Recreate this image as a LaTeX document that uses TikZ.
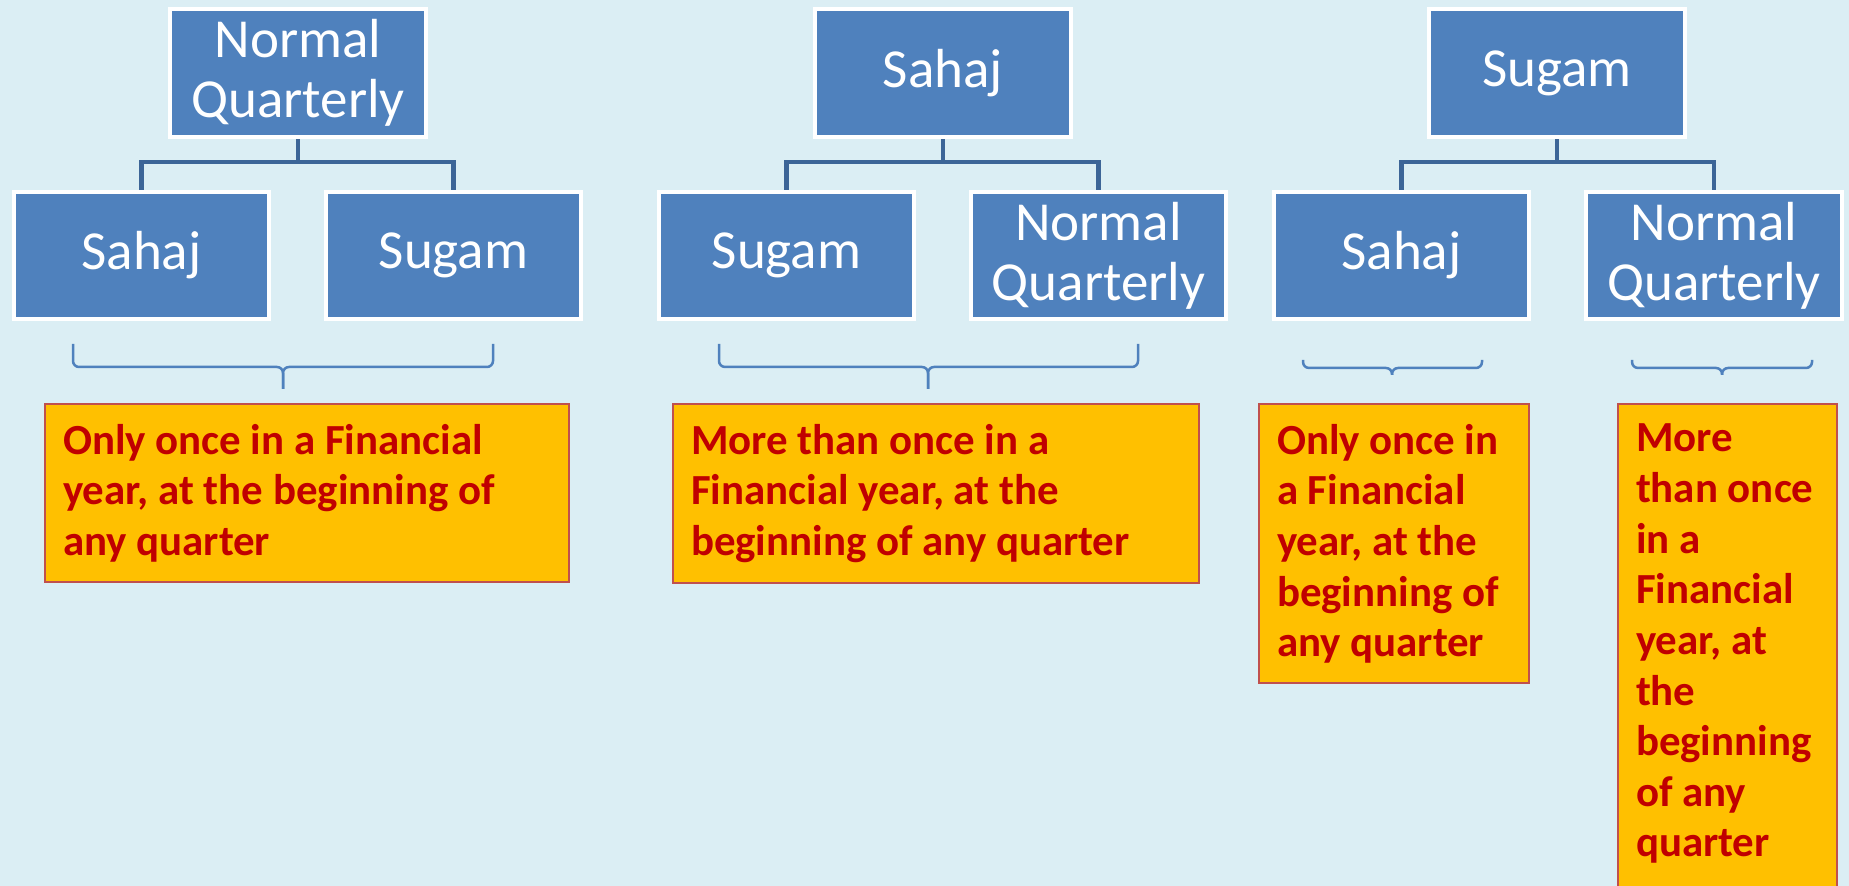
\documentclass[tikz,border=0pt]{standalone}
\usepackage{fontspec}
\setmainfont{Carlito}
\usepackage{tikz}
\usetikzlibrary{positioning,backgrounds}
\definecolor{bgaqua}{RGB}{219,238,244}
\definecolor{boxblue}{RGB}{79,129,189}
\definecolor{linkblue}{RGB}{60,101,151}
\definecolor{notegold}{RGB}{255,192,0}
\definecolor{noteedge}{RGB}{192,80,77}
\definecolor{notered}{RGB}{192,0,0}
\tikzset{
  orgbox/.style={draw=white, line width=0.04cm, fill=boxblue, text=white,
    minimum width=2.55cm, minimum height=1.27cm, inner sep=0pt, align=center,
    font=\fontsize{15.65pt}{17.07pt}\selectfont},
  link/.style={draw=linkblue, line width=0.045cm},
  bracket/.style={draw=boxblue, line width=0.025cm, rounded corners=0.06cm},
  note/.style={draw=noteedge, line width=0.02cm, fill=notegold, text=notered,
    anchor=north west, inner xsep=0.18cm, inner ysep=0.2cm, align=flush left,
    font=\fontsize{12.2pt}{14.4pt}\selectfont\bfseries}
}

\begin{document}
\begin{tikzpicture}[x=0.01cm,y=0.01cm]
  \useasboundingbox (0,0) rectangle (1849,886);
  \clip (0,0) rectangle (1849,886);
  % Normal Quarterly -> Sahaj / Sugam
  \node[orgbox] (nq) at (298,813) {Normal\\Quarterly};
  \node[orgbox] (nqsahaj) at (141.5,630.5) {Sahaj};
  \node[orgbox] (nqsugam) at (453.5,630.5) {Sugam};
  \coordinate (nqjoin) at (298,724);
  % Sahaj -> Sugam / Normal Quarterly
  \node[orgbox] (sahaj) at (943,813) {Sahaj};
  \node[orgbox] (sahajsugam) at (786.5,630.5) {Sugam};
  \node[orgbox] (sahajnq) at (1098.5,630.5) {Normal\\Quarterly};
  \coordinate (sahajjoin) at (943,724);
  % Sugam -> Sahaj / Normal Quarterly
  \node[orgbox] (sugam) at (1557,813) {Sugam};
  \node[orgbox] (sugamsahaj) at (1401.5,630.5) {Sahaj};
  \node[orgbox] (sugamnq) at (1714,630.5) {Normal\\Quarterly};
  \coordinate (sugamjoin) at (1557,724);

  % braces
  \draw[bracket] (73,542) -- (73,519) -- (283,519) -- (283,497);
  \draw[bracket] (493,542) -- (493,519) -- (283,519) -- (283,497);
  \draw[bracket] (719,542) -- (719,519) -- (928,519) -- (928,497);
  \draw[bracket] (1138,542) -- (1138,519) -- (928,519) -- (928,497);
  \draw[bracket] (1303,526) -- (1303,518) -- (1392,518) -- (1392,511);
  \draw[bracket] (1482,526) -- (1482,518) -- (1392,518) -- (1392,511);
  \draw[bracket] (1632,526) -- (1632,518) -- (1722,518) -- (1722,511);
  \draw[bracket] (1812,526) -- (1812,518) -- (1722,518) -- (1722,511);

  % notes
  \node[note, text width=4.88cm] (nqnote) at (44,483)
    {Only once in a Financial\\year, at the beginning of\\any quarter};
  \node[note, text width=4.90cm] (sahajnote) at (672,483)
    {More than once in a\\Financial year, at the\\beginning of any quarter};
  \node[note, text width=2.34cm] (sugamsahajnote) at (1258,483)
    {Only once in\\a Financial\\year, at the\\beginning of\\any quarter};
  \node[note, text width=1.83cm] (sugamnqnote) at (1617,483)
    {More\\than once\\in a\\Financial\\year, at\\the\\beginning\\of any\\quarter\rule[-0.5cm]{0pt}{0.5cm}};

  \begin{scope}[on background layer]
    \fill[bgaqua] (0,0) rectangle (1849,886);
    \draw[link] (nq.south) -- (nqjoin) -| (nqsahaj.north);
    \draw[link] (nqjoin) -| (nqsugam.north);
    \draw[link] (sahaj.south) -- (sahajjoin) -| (sahajsugam.north);
    \draw[link] (sahajjoin) -| (sahajnq.north);
    \draw[link] (sugam.south) -- (sugamjoin) -| (sugamsahaj.north);
    \draw[link] (sugamjoin) -| (sugamnq.north);
  \end{scope}
\end{tikzpicture}
\end{document}
